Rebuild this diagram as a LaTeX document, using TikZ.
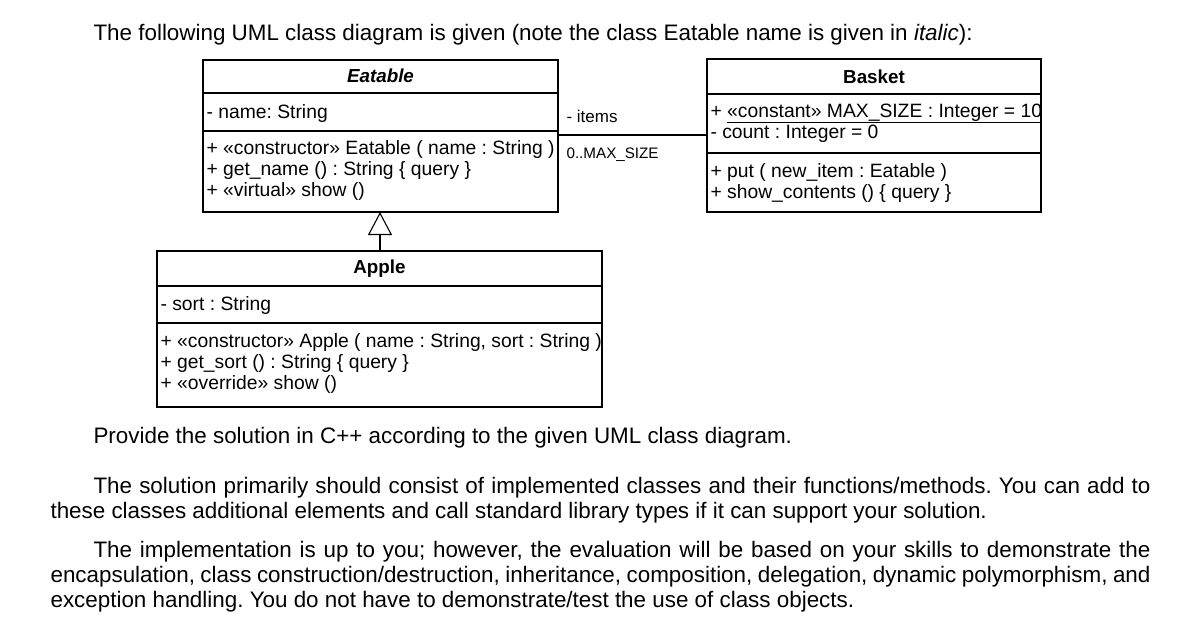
\documentclass[tikz,border=0pt]{standalone}
\usepackage{fontspec}
\setmainfont{Liberation Sans}
\usetikzlibrary{arrows.meta}
\frenchspacing
\begin{document}
\begin{tikzpicture}[x=1pt,y=-1pt,line width=1.1pt,
  classbox/.style={draw, anchor=north west, inner sep=0pt, outer sep=0pt},
  dtxt/.style={anchor=base west, inner sep=0pt, font=\fontsize{19.3}{21}\selectfont},
  htxt/.style={anchor=base, inner sep=0pt, font=\fontsize{18.8}{21}\selectfont\bfseries},
  mtxt/.style={anchor=base west, inner sep=0pt, font=\fontsize{22.4}{25}\selectfont},
  sep/.style={line width=1.1pt}]
\useasboundingbox[fill=white] (0,0) rectangle (1181,638);

% heading text
\node[mtxt] (t1) at (93,40) {The following UML class diagram is given (note the class Eatable name is given in \textit{italic}):};

% Eatable
\node[classbox, minimum width=355pt, minimum height=152pt] (eat) at (203,60) {};
\draw[sep] (203,93) -- (558,93);
\draw[sep] (203,131) -- (558,131);
\node[htxt] (eatn) at (380.5,82) {\itshape Eatable};
\node[dtxt] (eata) at (206,118) {- name: String};
\node[dtxt] (eatm1) at (206,154) {+ «constructor» Eatable ( name : String )};
\node[dtxt] (eatm2) at (206,175) {+ get\_name () : String \{ query \}};
\node[dtxt] (eatm3) at (206,196) {+ «virtual» show ()};

% Basket
\node[classbox, minimum width=334pt, minimum height=153pt] (bas) at (707,59) {};
\draw[sep] (707,94) -- (1041,94);
\draw[sep] (707,153) -- (1041,153);
\node[htxt] (basn) at (874,83) {Basket};
\node[dtxt] (basa1) at (710,117) {+ \underline{«constant» MAX\_SIZE : Integer = 10}};
\node[dtxt] (basa2) at (710,138) {- count : Integer = 0};
\node[dtxt] (basm1) at (710,177) {+ put ( new\_item : Eatable )};
\node[dtxt] (basm2) at (710,198) {+ show\_contents () \{ query \}};

% association
\coordinate (ay) at (0,135);
\draw (eat.east |- ay) -- (bas.west |- ay);
\node[dtxt, font=\fontsize{17}{19}\selectfont] (items) at (566,122) {- items};
\node[dtxt, font=\fontsize{15.2}{17}\selectfont] (mult) at (566,158) {0..MAX\_SIZE};

% Apple
\node[classbox, minimum width=445pt, minimum height=156pt] (app) at (157,251) {};
\draw[sep] (157,286) -- (602,286);
\draw[sep] (157,323) -- (602,323);
\node[htxt] (appn) at (379.5,273) {Apple};
\node[dtxt] (appa) at (160,310) {- sort : String};
\node[dtxt] (appm1) at (160,347) {+ «constructor» Apple ( name : String, sort : String )};
\node[dtxt] (appm2) at (160,368) {+ get\_sort () : String \{ query \}};
\node[dtxt] (appm3) at (160,389) {+ «override» show ()};

% generalization
\draw[-{Triangle[open,length=23pt,width=24pt]}] (app.north -| 380,0) -- (380,212);

% body text
\node[mtxt] (p1) at (93,443) {Provide the solution in C++ according to the given UML class diagram.};
\node[mtxt] (p2a) at (93,493) {\makebox[1057pt][s]{The solution primarily should consist of implemented classes and their functions/methods. You can add to}};
\node[mtxt] (p2b) at (50,518) {these classes additional elements and call standard library types if it can support your solution.};
\node[mtxt] (p3a) at (93,557) {\makebox[1057pt][s]{The implementation is up to you; however, the evaluation will be based on your skills to demonstrate the}};
\node[mtxt] (p3b) at (50,582) {\makebox[1100pt][s]{encapsulation, class construction/destruction, inheritance, composition, delegation, dynamic polymorphism, and}};
\node[mtxt] (p3c) at (50,607) {exception handling. You do not have to demonstrate/test the use of class objects.};
\end{tikzpicture}
\end{document}
